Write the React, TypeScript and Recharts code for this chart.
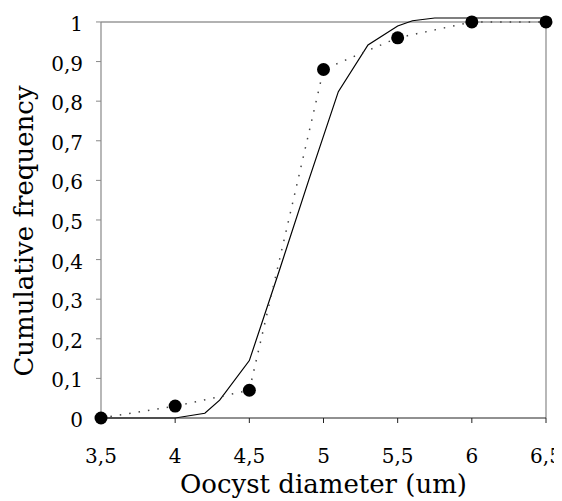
import React from 'react';
import { LineChart, Line, XAxis, YAxis, ReferenceLine } from 'recharts';

// observed cumulative frequencies (dots, dotted line)
const obsX = [3.5, 4, 4.5, 5, 5.5, 6, 6.5];
const obsY = [0, 0.03, 0.07, 0.88, 0.96, 1, 1];

// fitted curve (solid line)
const fitX = [3.5, 4.0, 4.2, 4.3, 4.5, 4.7, 4.9, 5.1, 5.3, 5.5, 5.6, 5.75, 6.5];
const fitY = [0, 0, 0.012, 0.045, 0.145, 0.37, 0.6, 0.824, 0.942, 0.99, 1.003, 1.01, 1.01];

const xTicks = [3.5, 4, 4.5, 5, 5.5, 6, 6.5];
const yTicks = [0, 0.1, 0.2, 0.3, 0.4, 0.5, 0.6, 0.7, 0.8, 0.9, 1];

const observed = obsX.map((x, i) => ({ x, y: obsY[i] }));
const fitted = fitX.map((x, i) => ({ x, y: fitY[i] }));

// Liberation Serif doesn't resolve here, DejaVu Serif does
const FONT = 'DejaVu Serif';
const fmt = (v: number) => String(v).replace('.', ',');

export default function App() {
  return (
    <div style={{ fontFamily: FONT }}>
      <style>{'.recharts-surface { overflow: visible; }'}</style>
      <LineChart width={554} height={493} margin={{ top: 10, right: 16, bottom: 0, left: 0 }}>
        <XAxis
          type="number"
          dataKey="x"
          domain={[3.5, 6.5]}
          ticks={xTicks}
          tickFormatter={fmt}
          stroke="#222"
          tick={{ fill: '#000', fontSize: 20, fontFamily: FONT }}
          tickSize={5}
          tickMargin={26}
          height={83}
          label={{
            content: (props: any) => {
              const vb = props.viewBox;
              return (
                <text
                  x={vb.x + vb.width / 2}
                  y={vb.y + vb.height - 8}
                  textAnchor="middle"
                  fontSize={26}
                  fontFamily={FONT}
                  fill="#000"
                >
                  Oocyst diameter (um)
                </text>
              );
            },
          }}
        />
        <YAxis
          type="number"
          domain={[0, 1.01]}
          ticks={yTicks}
          tickFormatter={fmt}
          axisLine={false}
          tickLine={{ stroke: '#888' }}
          tick={{ fill: '#000', fontSize: 20, fontFamily: FONT, dy: 2 }}
          tickSize={5}
          tickMargin={13}
          width={93}
          label={{
            content: (props: any) => {
              const vb = props.viewBox;
              const cx = vb.x + 25;
              const cy = vb.y + vb.height / 2 + 13;
              return (
                <text
                  x={cx}
                  y={cy}
                  transform={`rotate(-90 ${cx} ${cy})`}
                  textAnchor="middle"
                  fontSize={26}
                  fontFamily={FONT}
                  fill="#000"
                >
                  Cumulative frequency
                </text>
              );
            },
          }}
        />
        <ReferenceLine y={1} stroke="#999" strokeWidth={1.5} />
        <ReferenceLine segment={[{ x: 3.5, y: 0 }, { x: 3.5, y: 1 }]} stroke="#888" strokeWidth={1.2} />
        <ReferenceLine segment={[{ x: 6.5, y: 0 }, { x: 6.5, y: 1 }]} stroke="#888" strokeWidth={1.2} />
        <Line
          data={fitted}
          dataKey="y"
          type="linear"
          stroke="#000"
          strokeWidth={1.2}
          dot={false}
          isAnimationActive={false}
        />
        <Line
          data={observed}
          dataKey="y"
          type="linear"
          stroke="#444"
          strokeWidth={1.5}
          strokeDasharray="1.5 8"
          dot={{ r: 6.5, fill: '#000', stroke: 'none' }}
          isAnimationActive={false}
        />
      </LineChart>
    </div>
  );
}
